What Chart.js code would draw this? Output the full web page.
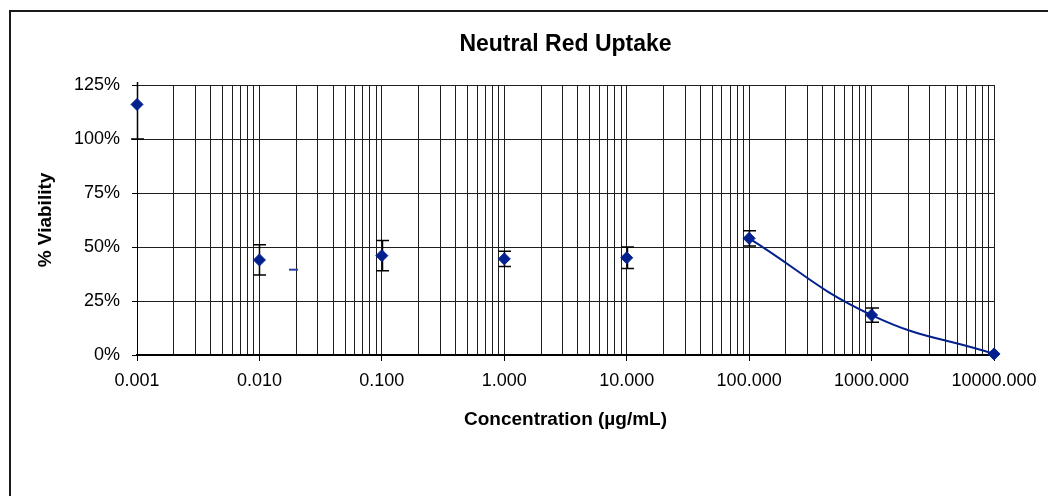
<!DOCTYPE html>
<html>
<head>
<meta charset="utf-8">
<script src="https://cdn.jsdelivr.net/npm/chart.js@4/dist/chart.umd.min.js"></script>
<style>
  html, body { margin: 0; padding: 0; background: #fff; overflow: hidden; }
  #wrap { width: 1048px; height: 496px; }
</style>
</head>
<body>
<div id="wrap"><canvas id="nruChart" width="1048" height="496"></canvas></div>
<script>
// data
const concentrations = [0.001, 0.01, 0.1, 1, 10, 100, 1000, 10000];
const viability = [116, 44, 46, 44.5, 45, 54, 18.5, 0.5];
const viabilityErr = [16, 7, 7, 3.5, 5, 3.5, 3.3, 0];

// fitted curve (high concentrations only)
const fitConc = [100, 1000, 10000];
const fitViability = [54, 18.5, 0.5];

// stray short dash near 0.02
const strayConc = [0.019];
const strayViability = [39.5];

const decadeTicks = [0.001, 0.01, 0.1, 1, 10, 100, 1000, 10000];
const xTickLabels = ["0.001", "0.010", "0.100", "1.000", "10.000", "100.000", "1000.000", "10000.000"];
const yTicks = [0, 25, 50, 75, 100, 125];

const blue = "#03208f";
const font = "'Liberation Sans', Arial, sans-serif";

function isDecade(v) {
  return decadeTicks.some(d => Math.abs(v - d) / d < 1e-6);
}

// frame + white background
const framePlugin = {
  id: "frame",
  beforeDraw(chart) {
    const ctx = chart.ctx;
    ctx.save();
    ctx.fillStyle = "#fff";
    ctx.fillRect(0, 0, chart.width, chart.height);
    ctx.strokeStyle = "#1a1a1a";
    ctx.lineWidth = 2;
    ctx.strokeRect(10, 11, 1100, 600);
    ctx.restore();
  },
  afterDraw(chart) {
    // chart title centred over the plot area
    const ctx = chart.ctx;
    const area = chart.chartArea;
    ctx.save();
    ctx.fillStyle = "#000";
    ctx.font = "bold 23px " + font;
    ctx.textAlign = "center";
    ctx.textBaseline = "middle";
    ctx.fillText("Neutral Red Uptake", (area.left + area.right) / 2, 45);
    ctx.restore();
  }
};

// vertical error bars
const errorBarPlugin = {
  id: "errorBars",
  beforeDatasetsDraw(chart) {
    const ctx = chart.ctx;
    const xs = chart.scales.x, ys = chart.scales.y;
    const area = chart.chartArea;
    ctx.save();
    ctx.beginPath();
    ctx.rect(area.left - 10, area.top - 3, area.right - area.left + 20, area.bottom - area.top + 6);
    ctx.clip();
    ctx.strokeStyle = "#000";
    ctx.lineWidth = 1.5;
    concentrations.forEach((c, i) => {
      const e = viabilityErr[i];
      if (!e) return;
      const x = Math.round(xs.getPixelForValue(c)) + 0.5;
      const yHi = ys.getPixelForValue(viability[i] + e);
      const yLo = ys.getPixelForValue(viability[i] - e);
      ctx.beginPath();
      ctx.moveTo(x, yHi);
      ctx.lineTo(x, yLo);
      ctx.moveTo(x - 6.5, yHi);
      ctx.lineTo(x + 6.5, yHi);
      ctx.moveTo(x - 6.5, yLo);
      ctx.lineTo(x + 6.5, yLo);
      ctx.stroke();
    });
    ctx.restore();
  }
};

new Chart(document.getElementById("nruChart"), {
  type: "scatter",
  data: {
    datasets: [
      {
        label: "Viability",
        data: concentrations.map((c, i) => ({ x: c, y: viability[i] })),
        pointStyle: "rectRot",
        pointRadius: 6,
        pointBackgroundColor: blue,
        pointBorderColor: blue,
        pointBorderWidth: 1,
        showLine: false,
        clip: false,
        order: 1
      },
      {
        label: "Fit",
        data: fitConc.map((c, i) => ({ x: c, y: fitViability[i] })),
        showLine: true,
        borderColor: blue,
        borderWidth: 2,
        tension: 0.45,
        pointRadius: 0,
        clip: false,
        order: 2
      },
      {
        label: "Stray",
        data: strayConc.map((c, i) => ({ x: c, y: strayViability[i] })),
        pointStyle: "line",
        pointRadius: 4.5,
        pointBorderColor: "#2a3fa8",
        pointBorderWidth: 2,
        showLine: false,
        order: 3
      }
    ]
  },
  options: {
    responsive: false,
    animation: false,
    layout: { padding: { top: 85, right: 54, left: 0, bottom: 0 } },
    plugins: {
      legend: { display: false },
      tooltip: { enabled: false },
      title: { display: false }
    },
    scales: {
      x: {
        type: "logarithmic",
        min: 0.001,
        max: 10000,
        afterBuildTicks(scale) {
          const ticks = [];
          decadeTicks.forEach((d, i) => {
            const last = i === decadeTicks.length - 1;
            for (let k = 1; k <= (last ? 1 : 9); k++) {
              ticks.push({ value: d * k, major: k === 1 });
            }
          });
          scale.ticks = ticks;
        },
        afterFit(scale) { scale.height = 496 - 355; },
        grid: {
          color: "#1e1e1e",
          lineWidth: 1,
          tickLength: 6,
          tickColor: ctx => (ctx.tick && isDecade(ctx.tick.value)) ? "#000" : "rgba(0,0,0,0)"
        },
        border: { display: true, color: "#000", width: 2 },
        ticks: {
          autoSkip: false,
          maxRotation: 0,
          minRotation: 0,
          padding: 9,
          color: "#000",
          font: { family: font, size: 18 },
          callback(value) {
            const i = decadeTicks.findIndex(d => Math.abs(value - d) / d < 1e-6);
            return i >= 0 ? xTickLabels[i] : "";
          }
        },
        title: {
          display: true,
          text: "Concentration (\u00b5g/mL)",
          color: "#000",
          font: { family: font, size: 19, weight: "bold" },
          padding: { top: 0, bottom: 65 }
        }
      },
      y: {
        min: 0,
        max: 125,
        afterBuildTicks(scale) {
          scale.ticks = yTicks.map(v => ({ value: v }));
        },
        afterFit(scale) { scale.width = 137; },
        grid: { color: "#1e1e1e", lineWidth: 1, tickLength: 5, tickColor: "#000" },
        border: { display: true, color: "#000", width: 1 },
        ticks: {
          padding: 12,
          color: "#000",
          font: { family: font, size: 18 },
          callback: v => v + "%"
        },
        title: {
          display: true,
          text: "% Viability",
          color: "#000",
          font: { family: font, size: 19, weight: "bold" },
          padding: { top: 34, bottom: 0 }
        }
      }
    }
  },
  plugins: [framePlugin, errorBarPlugin]
});
</script>
</body>
</html>
